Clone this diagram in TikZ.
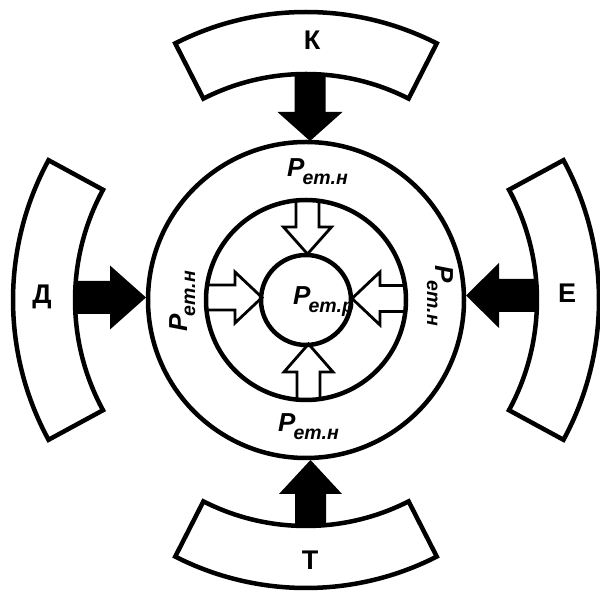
\documentclass[tikz,border=0pt]{standalone}
\usepackage{fontspec}
\setmainfont{Liberation Sans}
\newcommand\psub[1]{P\hspace{-2pt}\raisebox{-8pt}{\fontsize{19.5}{19.5}\selectfont #1}}
\begin{document}
\begin{tikzpicture}[x=1pt,y=1pt,line join=miter]
\tikzset{
  band/.style={draw=black,fill=white,line width=4.5pt},
  ring/.style={draw=black,line width=4.5pt},
  blackarrow/.style={fill=black},
  hollowarrow/.style={draw=black,fill=white,line width=2.8pt},
  letter/.style={font=\fontsize{27}{27}\selectfont\bfseries,inner sep=0pt},
  plabel/.style={font=\fontsize{26}{26}\selectfont\bfseries\itshape,inner sep=0pt,anchor=base west},
}
\useasboundingbox (0,0) rectangle (600,591);
\coordinate (c) at (306,291);
% outer bands
\draw[band] ([shift={(63:288)}]c) arc[start angle=63,end angle=117,radius=288]
  -- ([shift={(117:226)}]c) arc[start angle=117,end angle=63,radius=226] -- cycle;
\draw[band] ([shift={(243:288)}]c) arc[start angle=243,end angle=297,radius=288]
  -- ([shift={(297:226)}]c) arc[start angle=297,end angle=243,radius=226] -- cycle;
\draw[band] ([shift={(151.5:293)}]c) arc[start angle=151.5,end angle=208.5,radius=293]
  -- ([shift={(208.5:231)}]c) arc[start angle=208.5,end angle=151.5,radius=231] -- cycle;
\draw[band] ([shift={(-28.5:293)}]c) arc[start angle=-28.5,end angle=28.5,radius=293]
  -- ([shift={(28.5:231)}]c) arc[start angle=28.5,end angle=-28.5,radius=231] -- cycle;
% black arrows
\fill[blackarrow] (294.5,517) -- (294.5,479) -- (277.5,479) -- (310,450) -- (342.5,479) -- (325.5,479) -- (325.5,517) -- cycle;
\fill[blackarrow] (295,66) -- (295,97) -- (279,97) -- (310.5,131) -- (342,97) -- (326,97) -- (326,66) -- cycle;
\fill[blackarrow] (76,277) -- (110,277) -- (110,261.5) -- (146,293.5) -- (110,325.5) -- (110,310) -- (76,310) -- cycle;
\fill[blackarrow] (536,279) -- (499,279) -- (499,263) -- (466,295.5) -- (499,328) -- (499,312) -- (536,312) -- cycle;
% hollow arrows
\draw[hollowarrow] (296,391) -- (296,364) -- (283.5,364) -- (307.5,337) -- (331.5,364) -- (319,364) -- (319,391);
\draw[hollowarrow] (297,190) -- (297,219) -- (284,219) -- (308.5,247) -- (333,219) -- (320,219) -- (320,190);
\draw[hollowarrow] (206,306) -- (235,306) -- (235,319) -- (262,293.5) -- (235,268) -- (235,281) -- (206,281);
\draw[hollowarrow] (406,305.5) -- (380,305.5) -- (380,319) -- (352,292.5) -- (380,266) -- (380,279.5) -- (406,279.5);
% circles
\draw[ring] (c) circle[radius=158];
\draw[ring] (c) circle[radius=100];
\draw[ring] (c) circle[radius=45];
% letters
\node[letter] (k) at (312,551) {К};
\node[letter] (d) at (42,294) {Д};
\node[letter] (e) at (567,298) {Е};
\node[letter] (t) at (310,31) {Т};
% P labels
\node[plabel] (ptop) at (287,414) {\psub{em.н}};
\node[plabel] (pbot) at (278,159) {\psub{em.н}};
\node[plabel,rotate=90] (pleft) at (187,259) {\psub{em.н}};
\node[plabel,rotate=-90] (pright) at (435,326) {\psub{em.н}};
\node[plabel] (pmid) at (293,286) {\psub{em.p}};
\end{tikzpicture}
\end{document}
